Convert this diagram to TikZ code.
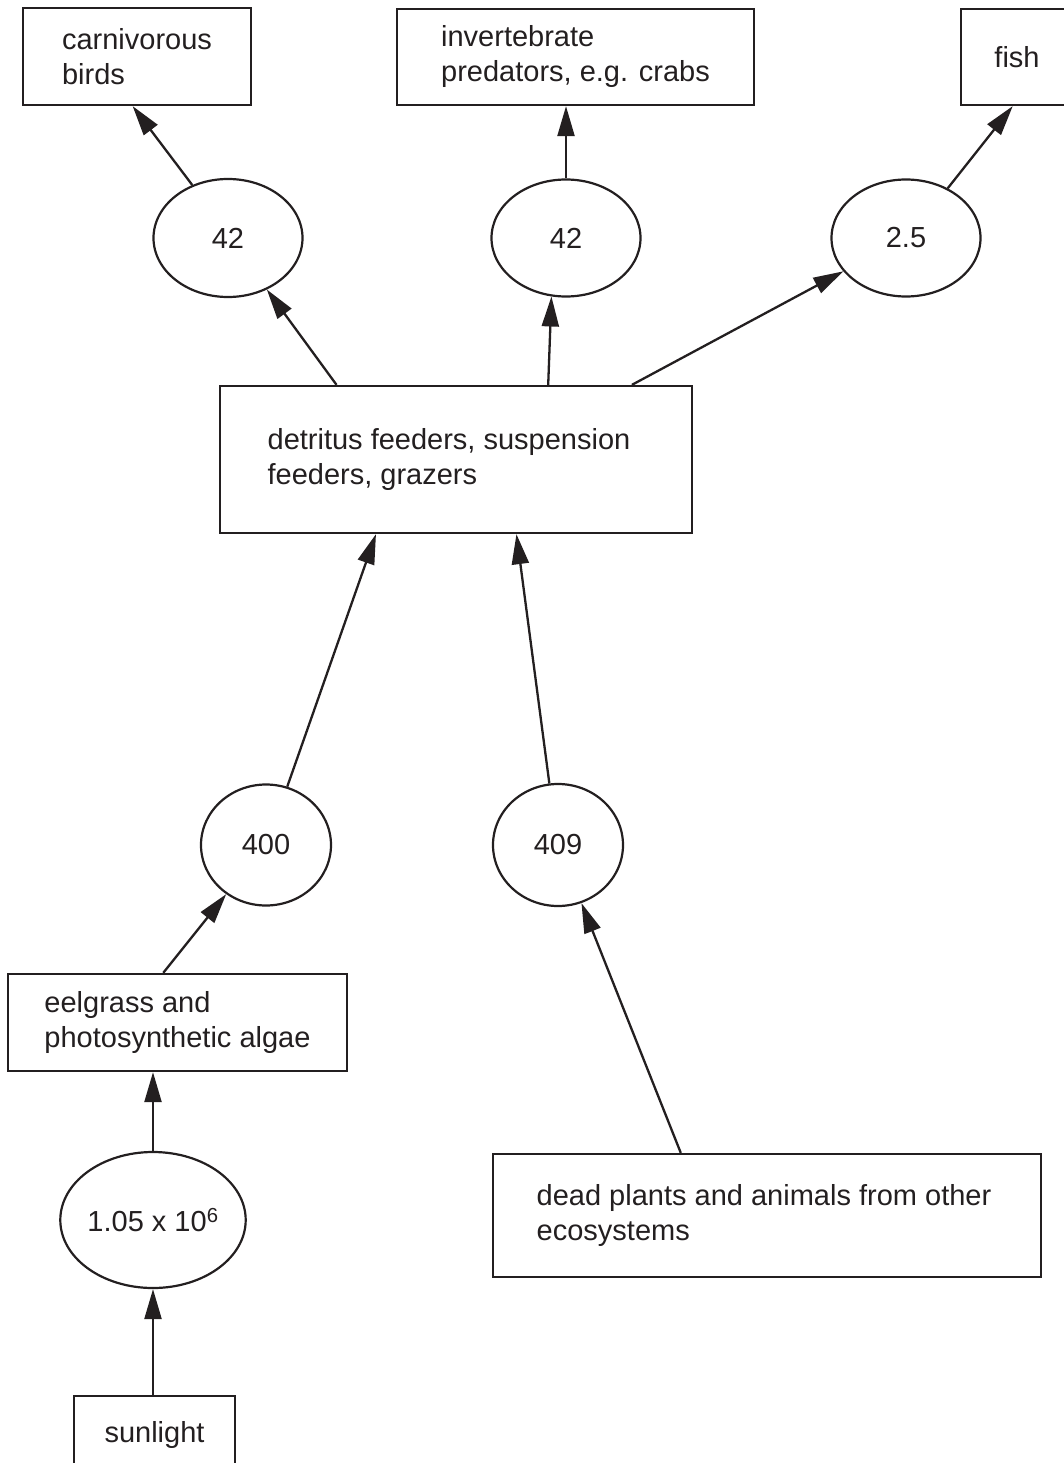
\documentclass[tikz,border=0pt]{standalone}
\usepackage{fontspec}
\setmainfont{Liberation Sans}
\usetikzlibrary{arrows.meta,shapes.geometric}
\definecolor{ink}{HTML}{231F20}
\begin{document}
\begin{tikzpicture}[x=1pt,y=-1pt,
  every node/.style={font=\fontsize{29}{35}\selectfont, text=ink},
  box/.style={draw=ink, line width=2.3pt, rectangle, inner sep=0pt, align=left},
  val/.style={draw=ink, line width=2.2pt, ellipse, inner sep=0pt},
  flow/.style={draw=ink, line width=2.3pt, -{Triangle[length=30pt,width=17pt]}}]
\useasboundingbox (0,0) rectangle (1064,1463);
% boxes
\node[box, minimum width=228pt, minimum height=97pt] (birds) at (137,56.5) {carnivorous\\birds};
\node[box, minimum width=357pt, minimum height=96pt] (invert) at (575.5,57) {invertebrate\\predators, e.g. crabs};
\node[box, minimum width=112pt, minimum height=96pt] (fish) at (1017,57) {fish};
\node[box, minimum width=472pt, minimum height=147pt] (detr) at (456,459.5) {detritus feeders, suspension\hspace*{14pt}\\feeders, grazers};
\node[box, minimum width=339pt, minimum height=97pt] (eel) at (177.5,1022.5) {eelgrass and\\photosynthetic algae};
\node[box, minimum width=548pt, minimum height=123pt] (dead) at (767,1215.5) {dead plants and animals from other\hspace*{6pt}\\ecosystems};
\node[box, minimum width=161pt, minimum height=77pt] (sun) at (154.5,1434.5) {sunlight};
% values
\node[val, minimum width=149pt, minimum height=118pt] (e1) at (228,238) {42};
\node[val, minimum width=149pt, minimum height=117pt] (e2) at (566,238) {42};
\node[val, minimum width=149pt, minimum height=117pt] (e3) at (906,238) {2.5};
\node[val, minimum width=130pt, minimum height=121pt] (e400) at (266,845) {400};
\node[val, minimum width=130pt, minimum height=122pt] (e409) at (558,845) {409};
\node[val, minimum width=163pt, minimum height=136pt] (esun) at (153,1220) {1.05 x 10\textsuperscript{6}};
% connectors
\draw[flow] (e1.124) -- (birds.265);
\draw[flow] (e2.north) -- (e2.north |- invert.south);
\draw[flow] (e3.50) -- (fish.265);
\draw[flow] (detr.148.7) -- (e1.307.6);
\draw[flow] (detr.39.9) -- (e2.256.7);
\draw[flow] (detr.23.1) -- (e3.208.4);
\draw[flow] (e400.70.4) -- (detr.223.3);
\draw[flow] (e409.98.5) -- (detr.309.2);
\draw[flow] (eel.106.6) -- (e400.231.7);
\draw[flow] (dead.144.1) -- (e409.292.5);
\draw[flow] (esun.north) -- (esun.north |- eel.south);
\draw[flow] (sun.north -| esun.south) -- (esun.south);
\end{tikzpicture}
\end{document}
